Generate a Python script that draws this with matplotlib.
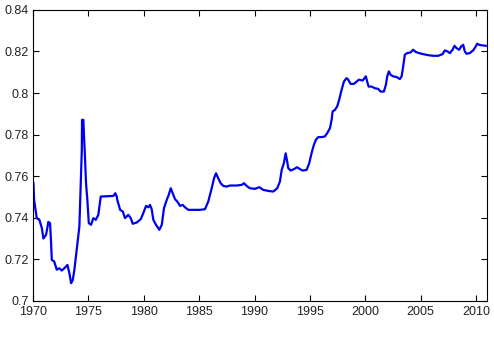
import matplotlib
matplotlib.use("Agg")
import matplotlib.pyplot as plt

plt.rcParams["font.family"] = ["Liberation Sans", "DejaVu Sans"]

# series (year, value)
years = [
    1970.03, 1970.09, 1970.33, 1970.57, 1970.79, 1970.93, 1971.17, 1971.38,
    1971.53, 1971.62, 1971.69, 1971.90, 1972.14, 1972.37, 1972.59, 1972.82,
    1973.10, 1973.28, 1973.43, 1973.58, 1973.73, 1973.94, 1974.18, 1974.31,
    1974.40, 1974.42, 1974.54, 1974.60, 1974.67, 1974.78, 1974.90, 1975.03,
    1975.23, 1975.44, 1975.66, 1975.89, 1976.11, 1977.25, 1977.43, 1977.55,
    1977.60, 1977.86, 1978.10, 1978.30, 1978.60, 1978.82, 1979.00, 1979.36,
    1979.72, 1979.95, 1980.20, 1980.41, 1980.56, 1980.71, 1980.86, 1981.10,
    1981.40, 1981.62, 1981.82, 1982.07, 1982.25, 1982.43, 1982.61, 1982.82,
    1983.02, 1983.27, 1983.51, 1983.72, 1984.02, 1984.77, 1985.07, 1985.52,
    1985.82, 1986.13, 1986.34, 1986.52, 1986.72, 1986.94, 1987.18, 1987.48,
    1987.78, 1988.38, 1988.84, 1989.04, 1989.29, 1989.58, 1990.04, 1990.42,
    1990.79, 1991.24, 1991.69, 1992.05, 1992.29, 1992.45, 1992.65, 1992.81,
    1992.95, 1993.04, 1993.26, 1993.56, 1993.85, 1994.10, 1994.34, 1994.70,
    1994.94, 1995.15, 1995.36, 1995.54, 1995.75, 1996.06, 1996.35, 1996.56,
    1996.81, 1996.96, 1997.05, 1997.26, 1997.46, 1997.64, 1997.86, 1998.07,
    1998.31, 1998.46, 1998.67, 1998.97, 1999.22, 1999.42, 1999.76, 2000.05,
    2000.17, 2000.30, 2000.57, 2000.87, 2001.16, 2001.38, 2001.68, 2001.86,
    2001.98, 2002.13, 2002.28, 2002.52, 2002.83, 2003.12, 2003.28, 2003.42,
    2003.57, 2003.78, 2004.09, 2004.32, 2004.57, 2004.86, 2005.23, 2005.68,
    2006.13, 2006.58, 2006.98, 2007.18, 2007.42, 2007.64, 2007.88, 2008.06,
    2008.24, 2008.47, 2008.66, 2008.84, 2008.99, 2009.14, 2009.44, 2009.74,
    2009.98, 2010.10, 2010.34, 2010.64, 2010.88,
]
values = [
    0.7566, 0.7486, 0.7398, 0.7390, 0.7350, 0.7300, 0.7318, 0.7380,
    0.7374, 0.7285, 0.7197, 0.7190, 0.7150, 0.7157, 0.7146, 0.7157,
    0.7173, 0.7133, 0.7085, 0.7100, 0.7150, 0.7245, 0.7358, 0.7582,
    0.7727, 0.7871, 0.7871, 0.7790, 0.7711, 0.7566, 0.7486, 0.7374,
    0.7366, 0.7398, 0.7390, 0.7414, 0.7502, 0.7505, 0.7518, 0.7502,
    0.7486, 0.7438, 0.7430, 0.7398, 0.7414, 0.7398, 0.7371, 0.7377,
    0.7393, 0.7422, 0.7457, 0.7450, 0.7462, 0.7441, 0.7390, 0.7366,
    0.7342, 0.7366, 0.7446, 0.7486, 0.7510, 0.7542, 0.7518, 0.7489,
    0.7478, 0.7457, 0.7462, 0.7450, 0.7438, 0.7438, 0.7438, 0.7441,
    0.7478, 0.7542, 0.7590, 0.7614, 0.7590, 0.7566, 0.7553, 0.7550,
    0.7555, 0.7555, 0.7558, 0.7566, 0.7553, 0.7542, 0.7539, 0.7547,
    0.7534, 0.7529, 0.7526, 0.7542, 0.7574, 0.7630, 0.7663, 0.7710,
    0.7670, 0.7639, 0.7627, 0.7634, 0.7643, 0.7634, 0.7627, 0.7630,
    0.7663, 0.7711, 0.7751, 0.7775, 0.7788, 0.7788, 0.7791, 0.7807,
    0.7831, 0.7871, 0.7911, 0.7919, 0.7935, 0.7967, 0.8015, 0.8055,
    0.8072, 0.8064, 0.8044, 0.8044, 0.8055, 0.8064, 0.8060, 0.8080,
    0.8055, 0.8031, 0.8031, 0.8023, 0.8020, 0.8007, 0.8007, 0.8039,
    0.8080, 0.8104, 0.8088, 0.8080, 0.8077, 0.8067, 0.8080, 0.8127,
    0.8184, 0.8192, 0.8195, 0.8208, 0.8197, 0.8192, 0.8187, 0.8182,
    0.8179, 0.8179, 0.8187, 0.8205, 0.8200, 0.8192, 0.8208, 0.8227,
    0.8216, 0.8208, 0.8224, 0.8232, 0.8200, 0.8189, 0.8192, 0.8205,
    0.8224, 0.8237, 0.8231, 0.8229, 0.8227,
]

x_ticks = [1970, 1975, 1980, 1985, 1990, 1995, 2000, 2005, 2010]
y_ticks = [0.70, 0.72, 0.74, 0.76, 0.78, 0.80, 0.82, 0.84]
y_tick_labels = ["0.7", "0.72", "0.74", "0.76", "0.78", "0.8", "0.82", "0.84"]

fig = plt.figure(figsize=(4.94, 3.40), dpi=100)
ax = fig.add_axes([0.067, 0.115, 0.919, 0.856])

ax.plot(years, values, color="#0000f0", linewidth=1.6)

ax.set_xlim(1970, 2011)
ax.set_ylim(0.70, 0.84)
ax.set_xticks(x_ticks)
ax.set_yticks(y_ticks)
ax.set_yticklabels(y_tick_labels)

ax.tick_params(direction="in", length=4, width=0.8, top=True, right=True,
               labelsize=9, labelcolor="#222222")
ax.tick_params(axis="x", pad=4)
ax.tick_params(axis="y", pad=3)
for s in ax.spines.values():
    s.set_linewidth(0.8)

fig.savefig("out.png", dpi=100)
